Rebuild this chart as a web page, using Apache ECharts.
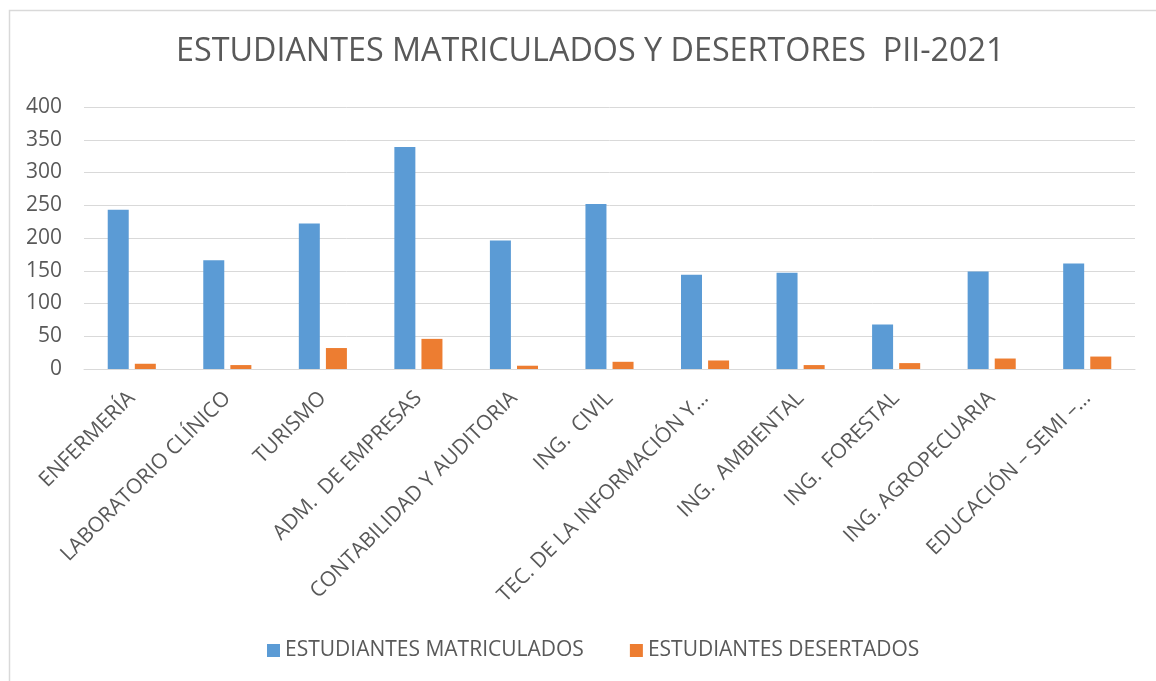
<!DOCTYPE html>
<html>
<head>
<meta charset="utf-8">
<script src="https://cdn.jsdelivr.net/npm/echarts@6/dist/echarts.min.js"></script>
<style>html,body{margin:0;padding:0;background:#fff}#c{width:1156px;height:681px}</style>
</head>
<body>
<div id="c"></div>
<script>
const categories = ["ENFERMERÍA","LABORATORIO CLÍNICO","TURISMO","ADM.  DE EMPRESAS","CONTABILIDAD Y AUDITORIA","ING.  CIVIL","TEC. DE LA INFORMACIÓN Y…","ING.  AMBIENTAL","ING.  FORESTAL","ING. AGROPECUARIA","EDUCACIÓN – SEMI –…"];
const matriculados = [243,166,222,339,196,252,144,147,68,149,161];
const desertados = [8,6,32,46,5,11,13,6,9,16,19];
const yTicks = [0,50,100,150,200,250,300,350,400];
const seriesNames = ["ESTUDIANTES MATRICULADOS","ESTUDIANTES DESERTADOS"];

const font = "'Open Sans', 'Noto Sans', sans-serif";
const chart = echarts.init(document.getElementById('c'), null, {renderer:'canvas'});
chart.setOption({
  animation:false,
  backgroundColor:'#fff',
  graphic:[{type:'rect',left:7,top:8,shape:{width:1300,height:800},style:{fill:'none',stroke:'#d9d9d9',lineWidth:1.5},silent:true}],
  title:{text:"ESTUDIANTES MATRICULADOS Y DESERTORES  PII-2021",left:171,top:31,
    textStyle:{fontFamily:font,fontWeight:'normal',fontSize:32.3,color:'#595959'}},
  legend:{top:635,left:262,itemWidth:13,itemHeight:13,itemGap:46,icon:'rect',
    textStyle:{fontFamily:font,fontSize:21,color:'#595959'},data:seriesNames},
  grid:{left:84,right:21,top:107,bottom:312,containLabel:false},
  xAxis:{type:'category',data:categories,
    axisLine:{lineStyle:{color:'#d9d9d9'}},axisTick:{show:false},
    axisLabel:{interval:0,rotate:45,fontFamily:font,fontSize:21,color:'#595959',margin:26}},
  yAxis:{type:'value',min:yTicks[0],max:yTicks[yTicks.length-1],interval:50,
    axisLine:{show:false},axisTick:{show:false},
    splitLine:{lineStyle:{color:'#d9d9d9',width:1}},
    axisLabel:{fontFamily:font,fontSize:21,color:'#595959',margin:22}},
  series:[
    {name:seriesNames[0],type:'bar',data:matriculados,barWidth:21,barGap:'29%',itemStyle:{color:'#5B9BD5'}},
    {name:seriesNames[1],type:'bar',data:desertados,barWidth:21,itemStyle:{color:'#ED7D31'}}
  ]
});
</script>
</body>
</html>
